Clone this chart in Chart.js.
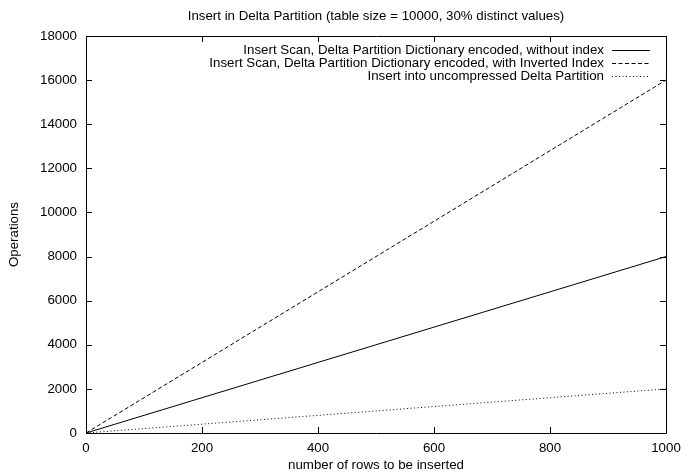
<!DOCTYPE html>
<html>
<head>
<meta charset="utf-8">
<script src="https://cdn.jsdelivr.net/npm/chart.js@4"></script>
<style>
  html, body { margin: 0; padding: 0; background: #fff; }
  #wrap { width: 681px; height: 475px; }
</style>
</head>
<body>
<div id="wrap"><canvas id="chart" width="681" height="475"></canvas></div>
<script>
const titleText = 'Insert in Delta Partition (table size = 10000, 30% distinct values)';
const rows = [0, 200, 400, 600, 800, 1000];
const scanNoIndex = [0, 1600, 3200, 4800, 6400, 8000];
const scanInverted = [0, 3200, 6400, 9600, 12800, 16000];
const uncompressed = [0, 400, 800, 1200, 1600, 2000];
const seriesNames = [
    'Insert Scan, Delta Partition Dictionary encoded, without index',
    'Insert Scan, Delta Partition Dictionary encoded, with Inverted Index',
    'Insert into uncompressed Delta Partition'
];
const dashes = [[], [4, 2.5], [1, 2.5]];

const FONT = 'Liberation Sans, Arial, Helvetica, sans-serif';
const FSIZE = 13.3;

function points(ys) {
    return ys.map((y, i) => ({x: rows[i], y: y}));
}

// frame, inward ticks on all four sides, title and legend (gnuplot look)
const gnuplotFrame = {
    id: 'gnuplotFrame',
    afterDatasetsDraw(chart) {
        const {ctx, chartArea: a, scales} = chart;
        ctx.save();
        ctx.strokeStyle = '#000';
        ctx.lineWidth = 1;
        ctx.setLineDash([]);
        ctx.beginPath();
        ctx.rect(Math.round(a.left) + 0.5, Math.round(a.top) + 0.5,
                 Math.round(a.right - a.left), Math.round(a.bottom - a.top));
        ctx.stroke();
        const tl = 6;
        ctx.beginPath();
        scales.x.ticks.forEach(t => {
            const px = Math.round(scales.x.getPixelForValue(t.value)) + 0.5;
            ctx.moveTo(px, a.bottom); ctx.lineTo(px, a.bottom - tl);
            ctx.moveTo(px, a.top); ctx.lineTo(px, a.top + tl);
        });
        scales.y.ticks.forEach(t => {
            const py = Math.round(scales.y.getPixelForValue(t.value)) + 0.5;
            ctx.moveTo(a.left, py); ctx.lineTo(a.left + tl, py);
            ctx.moveTo(a.right, py); ctx.lineTo(a.right - tl, py);
        });
        ctx.stroke();

        ctx.fillStyle = '#000';
        ctx.font = FSIZE + 'px ' + FONT;
        ctx.textAlign = 'center';
        ctx.textBaseline = 'middle';
        ctx.fillText(titleText, (a.left + a.right) / 2, 16);

        ctx.textAlign = 'right';
        chart.data.datasets.forEach((ds, i) => {
            const y = 50 + i * 13;
            ctx.fillText(ds.label, 604, y);
            ctx.beginPath();
            ctx.setLineDash(ds.borderDash || []);
            ctx.moveTo(612, y + 0.5);
            ctx.lineTo(650, y + 0.5);
            ctx.stroke();
        });
        ctx.restore();
    }
};

const tickFont = {family: FONT, size: FSIZE};

new Chart(document.getElementById('chart'), {
    type: 'line',
    data: {
        datasets: [
            {label: seriesNames[0], data: points(scanNoIndex), borderDash: dashes[0]},
            {label: seriesNames[1], data: points(scanInverted), borderDash: dashes[1]},
            {label: seriesNames[2], data: points(uncompressed), borderDash: dashes[2]}
        ].map(ds => Object.assign(ds, {
            borderColor: '#000',
            borderWidth: 1,
            pointRadius: 0,
            tension: 0,
            fill: false
        }))
    },
    options: {
        responsive: false,
        animation: false,
        layout: {padding: {top: 36, right: 15, left: 0, bottom: 0}},
        plugins: {
            legend: {display: false},
            title: {display: false},
            tooltip: {enabled: false}
        },
        scales: {
            x: {
                type: 'linear',
                min: 0,
                max: 1000,
                grid: {display: false, drawTicks: false},
                border: {display: false},
                ticks: {stepSize: 200, padding: 7, color: '#000', font: tickFont,
                        callback: v => String(v)},
                title: {display: true, text: 'number of rows to be inserted', color: '#000',
                        font: tickFont, padding: {top: 0, bottom: 2}},
                afterFit(scale) {
                    scale.height = 42;
                    scale.paddingLeft = 0;
                    scale.paddingRight = 0;
                }
            },
            y: {
                min: 0,
                max: 18000,
                grid: {display: false, drawTicks: false},
                border: {display: false},
                ticks: {stepSize: 2000, padding: 9, color: '#000', font: tickFont,
                        callback: v => String(v)},
                title: {display: true, text: 'Operations', color: '#000',
                        font: tickFont, padding: {top: 6, bottom: 0}},
                afterFit(scale) { scale.width = 86; }
            }
        }
    },
    plugins: [gnuplotFrame]
});
</script>
</body>
</html>
